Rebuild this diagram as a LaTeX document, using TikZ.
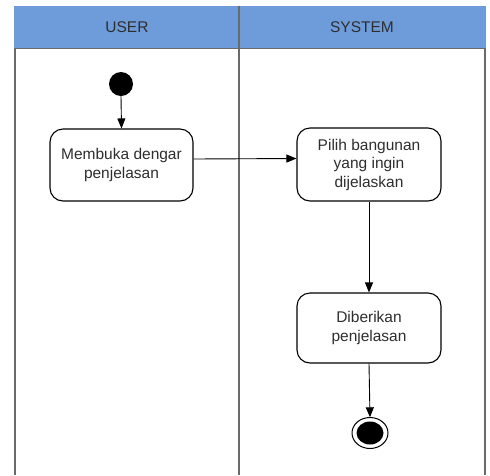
\documentclass[tikz,border=0pt]{standalone}
\usepackage{fontspec}
\setmainfont{Liberation Sans}
\usetikzlibrary{arrows.meta,shapes.geometric}
\definecolor{lanehead}{HTML}{6E9CDA}
\definecolor{laneline}{HTML}{6A6A6A}
\definecolor{txt}{HTML}{2E2E2E}
\tikzset{
  action/.style={draw=black, line width=1.1pt, rounded corners=13pt, align=center,
    text=txt, font=\fontsize{15.5}{18.5}\selectfont, inner sep=0pt},
  flow/.style={draw=black, line width=0.9pt, -{Triangle[length=10pt,width=8pt]}},
  lanetitle/.style={text=txt, font=\fontsize{15.5}{18}\selectfont}
}
\begin{document}
\begin{tikzpicture}[x=1pt,y=-1pt]
\useasboundingbox (0,0) rectangle (490,475);
\fill[white] (0,0) rectangle (490,475);
% swimlane header
\fill[lanehead] (14,6) rectangle (486,48);
\draw[laneline, line width=0.6pt] (14,48) -- (486,48);
\node[lanetitle] (luser) at (127,27) {USER};
\node[lanetitle] (lsys) at (362,27) {SYSTEM};
% lane borders
\draw[laneline, line width=2pt] (15,48) -- (15,475);
\draw[laneline, line width=2pt] (485,48) -- (485,475);
\draw[laneline, line width=1.2pt] (239,6) -- (239,475);
% start and end states
\fill[black] (121,84) circle (12);
\node[circle, inner sep=0pt, minimum size=24pt] (start) at (121,84) {};
\draw[black, line width=1pt] (370,433) ellipse (18 and 15.5);
\fill[black] (370,433) ellipse (13.5 and 11.5);
\node[ellipse, inner sep=0pt, minimum width=36pt, minimum height=31pt] (stop) at (370,433) {};
% actions
\node[action, minimum width=143pt, minimum height=72pt] (buka) at (121.5,165) {Membuka dengar\\penjelasan};
\node[action, minimum width=144pt, minimum height=73pt] (pilih) at (369,164.5) {Pilih bangunan\\yang ingin\\dijelaskan};
\node[action, minimum width=144pt, minimum height=70pt] (beri) at (369,328) {Diberikan\\penjelasan};
% flows
\draw[flow] (start.south) -- (buka.north);
\draw[flow] ([yshift=6pt]buka.east) -- ([yshift=6pt]pilih.west);
\draw[flow] (pilih.south) -- (beri.north);
\draw[flow] (beri.south) -- (stop.north);
\end{tikzpicture}
\end{document}
